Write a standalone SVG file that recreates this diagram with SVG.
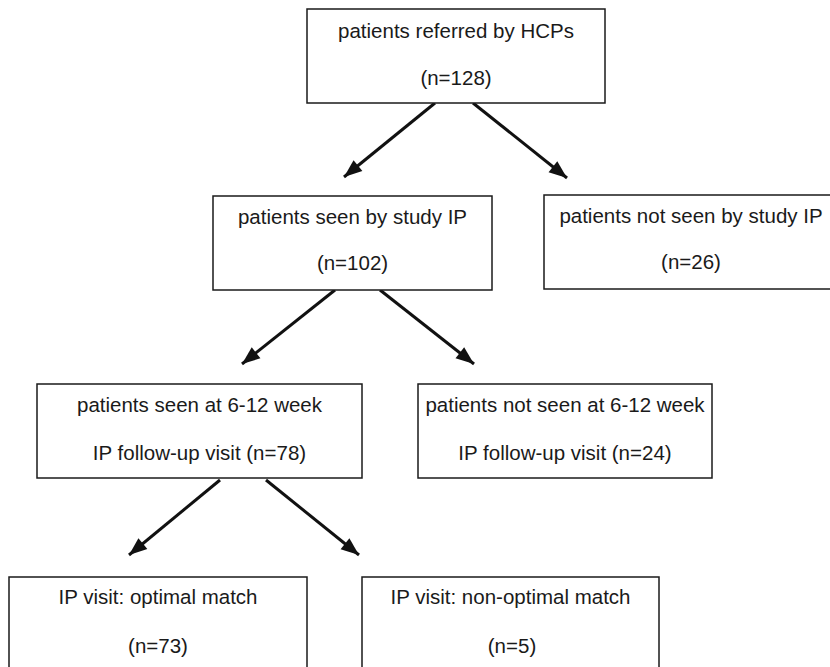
<svg xmlns="http://www.w3.org/2000/svg" width="830" height="667" viewBox="0 0 830 667">
<defs>
<style>
.box{fill:#fff;stroke:#1a1a1a;stroke-width:1.5}
.t{font-family:"Liberation Sans",Arial,sans-serif;font-size:20.5px;fill:#1a1a1a;text-anchor:middle}
.c{stroke:#111;stroke-width:3;fill:none;marker-end:url(#ah)}
</style>
<marker id="ah" markerUnits="userSpaceOnUse" markerWidth="24" markerHeight="24" viewBox="0 0 24 24" refX="20" refY="12" orient="auto">
<path d="M2,5 L20,12 L2,19 Z" fill="#111"/>
</marker>
</defs>
<rect width="830" height="667" fill="#fff"/>
<g id="connectors">
<line class="c" x1="435" y1="103" x2="344" y2="177"/>
<line class="c" x1="473" y1="103" x2="567" y2="178"/>
<line class="c" x1="335" y1="290" x2="242" y2="364"/>
<line class="c" x1="380" y1="290" x2="474" y2="364"/>
<line class="c" x1="220" y1="480" x2="129" y2="555"/>
<line class="c" x1="266" y1="480" x2="359" y2="555"/>
</g>
<g id="n1">
<rect class="box" x="307" y="9" width="298" height="94"/>
<text class="t" x="456" y="38">patients referred by HCPs</text>
<text class="t" x="456" y="85">(n=128)</text>
</g>
<g id="n2">
<rect class="box" x="213" y="196" width="279" height="94"/>
<text class="t" x="352.5" y="224">patients seen by study IP</text>
<text class="t" x="352.5" y="270">(n=102)</text>
</g>
<g id="n3">
<rect class="box" x="544" y="195" width="310" height="94"/>
<text class="t" x="691" y="223">patients not seen by study IP</text>
<text class="t" x="691" y="269">(n=26)</text>
</g>
<g id="n4">
<rect class="box" x="37" y="384" width="325" height="94"/>
<text class="t" x="199.5" y="412">patients seen at 6-12 week</text>
<text class="t" x="199.5" y="460">IP follow-up visit (n=78)</text>
</g>
<g id="n5">
<rect class="box" x="418" y="384" width="294" height="94"/>
<text class="t" x="565" y="412">patients not seen at 6-12 week</text>
<text class="t" x="565" y="460">IP follow-up visit (n=24)</text>
</g>
<g id="n6">
<rect class="box" x="9" y="577" width="298" height="100"/>
<text class="t" x="158" y="604">IP visit: optimal match</text>
<text class="t" x="158" y="653">(n=73)</text>
</g>
<g id="n7">
<rect class="box" x="362" y="577" width="297" height="100"/>
<text class="t" x="510.5" y="604">IP visit: non-optimal match</text>
<text class="t" x="512" y="653">(n=5)</text>
</g>
</svg>
